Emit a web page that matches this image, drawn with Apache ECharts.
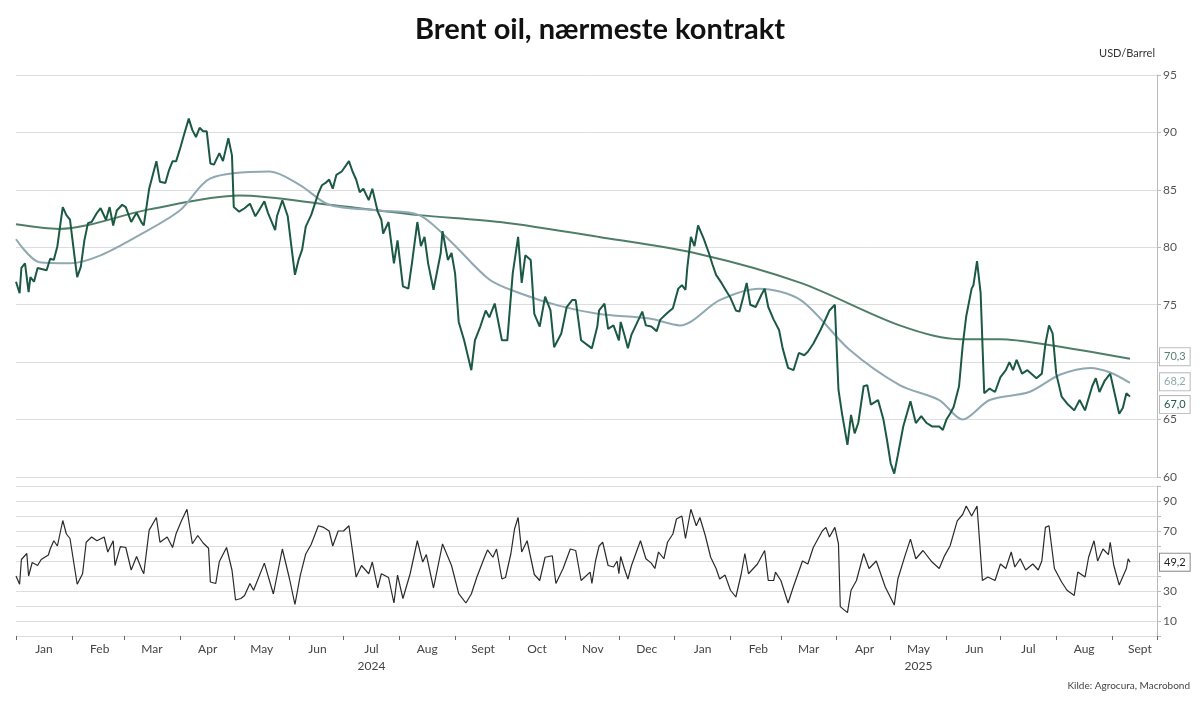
<!DOCTYPE html>
<html>
<head>
<meta charset="utf-8">
<script src="https://cdn.jsdelivr.net/npm/echarts@6/dist/echarts.min.js"></script>
<style>
  html, body { margin: 0; padding: 0; background: #fff; }
  #chart { width: 1200px; height: 704px; }
</style>
</head>
<body>
<div id="chart"></div>
<script>
// days counted from 2024-01-01
var priceDays = [0, 2, 3, 5, 7, 8, 10, 12, 17, 19, 21, 23, 25, 26, 28, 30, 33, 34, 36, 38, 40, 42, 45, 47, 50, 52, 54, 56, 59, 61, 64, 67, 70, 71, 74, 76, 78, 80, 83, 85, 87, 89, 91, 93, 96, 98, 100, 102, 104, 106, 108, 110, 113, 115, 118, 120, 121, 124, 127, 130, 133, 135, 138, 140, 144, 145, 148, 151, 153, 155, 157, 159, 161, 164, 168, 170, 172, 174, 176, 178, 181, 185, 187, 189, 191, 193, 196, 198, 201, 203, 204, 207, 210, 212, 215, 218, 220, 223, 225, 227, 229, 232, 236, 237, 240, 242, 244, 246, 249, 253, 255, 258, 261, 263, 266, 270, 273, 276, 279, 281, 283, 286, 288, 291, 294, 297, 299, 303, 306, 309, 311, 314, 320, 323,
  324, 327, 329, 332, 335, 336, 338, 340, 342, 345, 348, 350, 353, 356, 358, 362, 365, 368, 370, 372, 373, 375, 377, 379, 382, 385, 387, 389, 392, 395, 397, 400, 402, 404, 406, 408, 411, 414, 416, 418, 421, 424, 426, 429, 432, 435, 438, 440, 443, 447, 450, 452, 455, 457, 459, 462, 464, 466, 468, 471, 473, 475, 479, 482, 484, 486, 488, 490, 493, 497, 500, 503, 506, 509, 513, 515, 517, 519, 521, 524, 526, 528, 531, 532, 534, 536, 538, 541, 544, 547, 550, 552, 554, 556, 559, 562, 567, 570, 572, 574, 576, 578, 581, 584, 588, 591, 594, 598, 600, 602, 605, 608, 610, 613, 615, 617, 619];
var priceValues = [77.0, 76.0, 78.2, 78.6, 76.1, 77.4, 77.0, 78.2, 78.0, 79.0, 78.9, 80.1, 82.4, 83.5, 82.8, 82.4, 78.6, 77.4, 78.3, 80.6, 82.1, 82.2, 83.0, 83.4, 82.4, 83.5, 81.9, 83.2, 83.7, 83.5, 82.2, 83.0, 82.1, 81.9, 85.1, 86.3, 87.5, 85.7, 85.6, 86.7, 87.5, 87.5, 88.5, 89.6, 91.2, 90.2, 89.6, 90.4, 90.1, 90.1, 87.3, 87.2, 88.2, 87.5, 89.5, 88.0, 83.5, 83.1, 83.4, 83.8, 82.7, 83.2, 84.0, 83.0, 81.5, 82.7, 84.1, 82.7, 80.1, 77.6, 78.9, 79.8, 81.8, 82.8, 84.7, 85.4, 85.6, 85.9, 85.1, 86.3, 86.6, 87.5, 86.6, 85.9, 84.8, 85.1, 84.1, 85.1, 83.1, 82.4, 81.2, 82.2, 78.6, 80.6, 76.6, 76.4, 78.6, 82.2, 80.1, 80.9, 78.6, 76.3, 79.5, 81.4, 78.9, 79.5, 77.7, 73.5, 71.9, 69.3, 71.9, 73.1, 74.5, 73.9, 75.1, 71.9, 71.9, 77.7, 80.9, 76.9, 79.3, 78.9, 74.2, 73.1, 75.7, 74.5, 71.3, 72.5, 74.8, 75.4, 75.4, 71.9, 71.2, 73.1,
  74.5, 75.1, 72.9, 73.2, 71.9, 73.5, 72.4, 71.2, 72.4, 73.4, 74.4, 73.2, 73.1, 72.7, 73.7, 74.3, 74.7, 76.4, 76.7, 76.3, 78.2, 80.9, 80.1, 81.9, 80.8, 79.5, 78.5, 77.6, 76.9, 76.1, 75.6, 74.5, 74.4, 75.6, 76.9, 75.0, 74.8, 75.8, 76.4, 74.8, 73.7, 72.8, 71.2, 69.5, 69.3, 70.8, 70.6, 70.9, 71.6, 72.8, 73.8, 74.5, 75.0, 67.6, 65.5, 62.8, 65.4, 63.8, 64.7, 67.9, 68.0, 66.3, 66.7, 65.0, 63.2, 61.2, 60.3, 61.9, 64.4, 66.6, 64.7, 65.3, 64.7, 64.4, 64.4, 64.1, 65.0, 65.5, 66.1, 67.9, 71.4, 74.0, 76.4, 76.7, 78.8, 76.0, 67.3, 67.7, 67.4, 68.7, 69.3, 70.0, 69.3, 70.2, 69.0, 69.3, 68.6, 69.0, 71.6, 73.2, 72.5, 69.0, 67.0, 66.4, 65.8, 66.7, 65.8, 67.9, 68.6, 67.4, 68.4, 69.0, 67.6, 65.5, 66.0, 67.3, 67.0];

var ma50Days = [0, 13, 30, 47, 69, 91, 108, 141, 158, 174, 202, 224, 241, 263, 280, 302, 324, 352, 369, 391, 413, 436, 463, 491, 513, 526, 541, 563, 580, 597, 608, 619];
var ma50Values = [80.7, 78.7, 78.6, 79.3, 81.1, 83.2, 86.0, 86.6, 85.4, 83.7, 83.2, 82.8, 80.6, 77.2, 76.0, 74.9, 74.2, 73.8, 73.2, 75.4, 76.4, 75.4, 71.1, 68.0, 66.7, 65.0, 66.7, 67.4, 68.9, 69.5, 69.1, 68.2];

var ma200Days = [0, 24, 74, 124, 174, 224, 269, 324, 380, 436, 491, 524, 547, 574, 619];
var ma200Values = [82.0, 81.6, 83.3, 84.5, 83.7, 82.8, 82.2, 80.9, 79.4, 76.9, 73.2, 72.0, 72.0, 71.5, 70.3];

var rsiDays = [0, 2, 3, 6, 7, 9, 12, 14, 18, 19, 21, 23, 26, 28, 30, 34, 37, 39, 42, 45, 49, 51, 54, 55, 58, 61, 64, 67, 70, 71, 74, 78, 80, 84, 87, 89, 92, 95, 98, 101, 104, 107, 108, 111, 113, 117, 120, 122, 125, 127, 130, 132, 138, 143, 148, 152, 155, 158, 161, 164, 168, 171, 174, 176, 179, 182, 185, 189, 192, 196, 198, 201, 203, 207, 210, 212, 215, 219, 223, 226, 228, 232, 237, 242, 246, 250, 253, 256, 260, 262, 265, 267, 270, 272, 275, 277, 279, 281, 284, 288, 291, 294, 298, 300, 304, 308, 311, 314, 319, 320, 322,
  324, 326, 329, 332, 334, 335, 336, 338, 340, 342, 345, 347, 350, 353, 355, 357, 360, 362, 365, 367, 370, 372, 375, 378, 380, 383, 386, 389, 391, 394, 397, 400, 403, 405, 407, 412, 416, 418, 421, 422, 425, 429, 432, 437, 440, 443, 448, 450, 452, 455, 457, 458, 462, 464, 467, 471, 474, 478, 483, 488, 490, 494, 497, 500, 504, 509, 513, 516, 519, 523, 526, 528, 531, 534, 537, 540, 544, 547, 550, 553, 555, 558, 561, 565, 568, 570, 572, 574, 577, 581, 584, 588, 590, 594, 596, 599, 601, 604, 607, 608, 610, 613, 617, 618, 619];
var rsiValues = [40, 34.5, 51, 55, 40, 49, 47, 51, 54, 58, 63.5, 60, 77, 68, 65, 34.5, 41.5, 62.5, 66, 63.5, 66, 56, 63.5, 47, 59.6, 59, 44, 53, 44, 41.5, 70.6, 79, 62.5, 66, 59, 68.4, 77, 84.5, 61.5, 67, 62, 58.5, 36, 35, 49.7, 59, 44, 24, 25, 27, 35, 30.5, 48.6, 28, 58, 38, 21, 40.6, 54.7, 61, 73.5, 72.4, 70, 60, 70, 70, 73.5, 39.3, 47, 41.5, 49.3, 32, 41.5, 39, 22, 40.6, 25, 41.5, 63.5, 49.3, 54.3, 32, 61.4, 47, 28.3, 22, 28, 39, 51.5, 57.4, 52.5, 58, 38, 39, 55, 71.3, 79, 56, 63.5, 41, 37, 52.5, 53.5, 35, 45, 58, 57, 37, 42.6, 35, 50,
  60, 62.5, 47, 46, 50, 41.5, 53, 45, 38, 47, 57, 63.5, 51.5, 48.6, 45, 56, 51.5, 62.5, 68, 78, 80, 65, 84.5, 73.5, 79, 67, 52.5, 45, 38, 40.6, 30.5, 26, 41.5, 55, 41.5, 48, 57, 37, 37, 42.6, 37, 22, 33, 50, 48, 59, 70, 72.4, 66, 72.4, 61.5, 19.6, 15.6, 30.5, 37, 55, 45, 50, 32.7, 20.6, 38, 53.6, 64.6, 51.5, 57, 49.3, 45, 53.6, 60, 76.8, 81, 86.7, 80, 86.7, 37, 39.3, 37, 48, 45, 56, 46, 51.5, 44, 48, 44, 50, 72.4, 73.5, 45, 36, 30.5, 27, 42.6, 39.3, 52.5, 63.5, 50, 58, 54.3, 62.5, 47, 34, 45, 51.5, 49.2];

var monthNames = ['Jan', 'Feb', 'Mar', 'Apr', 'May', 'Jun', 'Jul', 'Aug', 'Sept', 'Oct', 'Nov', 'Dec'];

var DAY = 86400000;
var start = Date.UTC(2024, 0, 1);
var xMin = start;
var xMax = start + 634 * DAY;
var halfMonth = 15.5 * DAY;

function toSeries (days, values) {
  return days.map(function (d, i) { return [start + d * DAY, values[i]] })
}
function fmt (v) { return v.toFixed(1).replace('.', ',') }

function endLabel (color, border, offsetY) {
  return {
    show: true,
    formatter: function (p) { return fmt(p.value[1]) },
    distance: 30, offset: [0, offsetY || 0],
    color: color, fontSize: 11, backgroundColor: '#fff',
    borderColor: border, borderWidth: 1, padding: [3, 4]
  }
}

var font = 'Lato, "Open Sans", sans-serif';
var chart = echarts.init(document.getElementById('chart'));

var option = {
  animation: false,
  textStyle: { fontFamily: font },
  title: {
    text: 'Brent oil, nærmeste kontrakt',
    left: 'center',
    top: 10,
    textStyle: { fontSize: 29, fontWeight: 'bold', color: '#111', fontFamily: font }
  },
  graphic: [
    { type: 'text', right: 45, top: 48, style: { text: 'USD/Barrel', fontSize: 11, fill: '#333', fontFamily: font } },
    { type: 'text', right: 10, top: 681, style: { text: 'Kilde: Agrocura, Macrobond', fontSize: 10, fill: '#444', fontFamily: font } }
  ],
  grid: [
    { left: 16, right: 43, top: 75, height: 402 },
    { left: 16, right: 43, top: 486, height: 150 }
  ],
  xAxis: [
    { type: 'time', gridIndex: 0, min: xMin, max: xMax, axisLine: { show: false }, axisTick: { show: false }, axisLabel: { show: false }, splitLine: { show: false } },
    {
      type: 'time', gridIndex: 1, position: 'bottom', min: xMin, max: xMax,
      minInterval: 28 * DAY, maxInterval: 31 * DAY, splitNumber: 21,
      axisLine: { show: false },
      axisTick: { show: true, length: 4, lineStyle: { color: '#666' } },
      axisLabel: { show: false },
      splitLine: { show: false }
    },
    {
      type: 'time', gridIndex: 1, position: 'bottom', offset: 0,
      min: xMin - halfMonth, max: xMax - halfMonth,
      minInterval: 28 * DAY, maxInterval: 31 * DAY, splitNumber: 21,
      axisLine: { show: false }, axisTick: { show: false }, splitLine: { show: false },
      axisLabel: {
        color: '#444', fontSize: 12, margin: 5, lineHeight: 17,
        formatter: function (val) {
          var d = new Date(val);
          var m = d.getUTCMonth();
          var y = d.getUTCFullYear();
          var s = monthNames[m];
          if (y === 2024 && m === 6) s += '\n2024';
          if (y === 2025 && m === 4) s += '\n2025';
          return s;
        }
      }
    }
  ],
  yAxis: [
    {
      type: 'value', gridIndex: 0, position: 'right', min: 60, max: 95, interval: 5,
      axisLine: { show: true, lineStyle: { color: '#bbb' } },
      axisTick: { show: true, length: 4, lineStyle: { color: '#bbb' } },
      axisLabel: { color: '#555', fontSize: 12, margin: 6 },
      splitLine: { lineStyle: { color: '#ddd' } }
    },
    {
      type: 'value', gridIndex: 1, position: 'right', min: 0, max: 100, interval: 10,
      axisLine: { show: true, lineStyle: { color: '#bbb' } },
      axisTick: { show: true, length: 4, lineStyle: { color: '#bbb' } },
      axisLabel: {
        color: '#555', fontSize: 12, margin: 6,
        formatter: function (v) { return (v === 10 || v === 30 || v === 70 || v === 90) ? String(v) : '' }
      },
      splitLine: { lineStyle: { color: '#ddd' } }
    }
  ],
  series: [
    {
      name: '200d', type: 'line', xAxisIndex: 0, yAxisIndex: 0, showSymbol: false, smooth: 0.3,
      data: toSeries(ma200Days, ma200Values),
      lineStyle: { color: '#4f7e68', width: 2 },
      endLabel: endLabel('#5d7f70', '#bbb', -2)
    },
    {
      name: '50d', type: 'line', xAxisIndex: 0, yAxisIndex: 0, showSymbol: false, smooth: 0.3,
      data: toSeries(ma50Days, ma50Values),
      lineStyle: { color: '#8fa8b2', width: 2 },
      endLabel: endLabel('#8fa8b2', '#bbb', -1)
    },
    {
      name: 'Brent', type: 'line', xAxisIndex: 0, yAxisIndex: 0, showSymbol: false,
      data: toSeries(priceDays, priceValues),
      lineStyle: { color: '#1b5943', width: 2 },
      endLabel: endLabel('#1b5943', '#bbb', 8)
    },
    {
      name: 'RSI', type: 'line', xAxisIndex: 1, yAxisIndex: 1, showSymbol: false,
      data: toSeries(rsiDays, rsiValues),
      lineStyle: { color: '#2a2a2a', width: 1.2 },
      endLabel: endLabel('#222', '#888', 0)
    }
  ]
};
chart.setOption(option);
</script>
</body>
</html>
